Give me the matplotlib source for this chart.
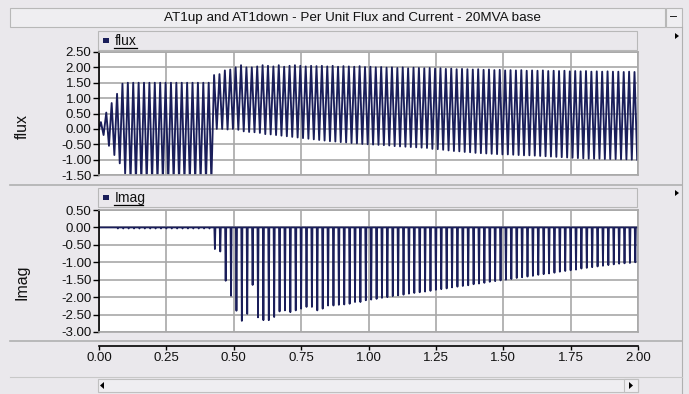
import numpy as np
import matplotlib.pyplot as plt
from matplotlib.patches import Rectangle, Polygon

plt.rcParams['font.family'] = ['Liberation Sans', 'DejaVu Sans']

# ---- data ----
title = 'AT1up and AT1down - Per Unit Flux and Current - 20MVA base'
x_ticks = [0.00, 0.25, 0.50, 0.75, 1.00, 1.25, 1.50, 1.75, 2.00]
flux_ticks = [-1.50, -1.00, -0.50, 0.00, 0.50, 1.00, 1.50, 2.00, 2.50]
imag_ticks = [-3.00, -2.50, -2.00, -1.50, -1.00, -0.50, 0.00, 0.50]

period = 0.02  # 50 Hz, one entry per cycle below

# flux: positive peak of each cycle
flux_max = [0.22, 0.53, 0.84, 1.14, 1.47, 1.50, 1.50, 1.50, 1.50, 1.50,
            1.50, 1.50, 1.50, 1.50, 1.50, 1.50, 1.50, 1.50, 1.50, 1.50,
            1.50, 1.75, 1.78, 1.90, 1.93, 2.00, 2.07, 2.00, 2.00, 2.03,
            2.07, 2.05, 2.03, 2.07, 2.02, 2.05, 2.07, 2.05, 2.03, 2.05,
            2.04, 2.05, 2.03, 2.05, 2.02, 2.04, 2.03, 2.02, 2.04, 2.01,
            2.02, 2.00, 2.01, 1.99, 2.00, 1.98, 2.00, 1.97, 1.99, 1.98,
            1.97, 1.98, 1.96, 1.97, 1.95, 1.96, 1.94, 1.95, 1.94, 1.93,
            1.94, 1.92, 1.93, 1.91, 1.92, 1.90, 1.91, 1.90, 1.91, 1.89,
            1.90, 1.89, 1.90, 1.88, 1.89, 1.88, 1.89, 1.87, 1.88, 1.87,
            1.88, 1.86, 1.87, 1.86, 1.87, 1.86, 1.86, 1.85, 1.86, 1.85]
# flux: negative peak of each cycle
flux_min = [-0.20, -0.55, -0.85, -1.12, -1.45, -1.70, -1.70, -1.70, -1.70, -1.70,
            -1.70, -1.70, -1.70, -1.70, -1.70, -1.70, -1.70, -1.70, -1.70, -1.70,
            -1.70, 0.00, 0.00, -0.02, 0.00, -0.03, -0.08, -0.10, -0.11, -0.13,
            -0.17, -0.18, -0.20, -0.22, -0.24, -0.26, -0.28, -0.30, -0.32, -0.34,
            -0.36, -0.38, -0.40, -0.41, -0.43, -0.44, -0.46, -0.47, -0.49, -0.50,
            -0.51, -0.52, -0.53, -0.54, -0.56, -0.57, -0.58, -0.59, -0.60, -0.61,
            -0.62, -0.65, -0.66, -0.68, -0.70, -0.72, -0.73, -0.75, -0.76, -0.78,
            -0.79, -0.80, -0.81, -0.82, -0.83, -0.83, -0.84, -0.85, -0.86, -0.86,
            -0.87, -0.88, -0.89, -0.90, -0.91, -0.92, -0.93, -0.94, -0.95, -0.96,
            -0.97, -0.97, -0.97, -0.98, -0.98, -0.98, -0.99, -0.99, -1.00, -1.00]
# Imag: magnetising current spike of each cycle
imag_peak = [0.00, 0.00, 0.00, -0.03, -0.03, -0.03, -0.03, -0.03, -0.03, -0.03,
             -0.03, -0.03, -0.03, -0.03, -0.03, -0.03, -0.03, -0.03, -0.03, -0.03,
             -0.03, -0.62, -0.69, -1.53, -1.96, -2.39, -2.68, -2.48, -1.65, -2.58,
             -2.66, -2.66, -2.57, -2.41, -2.38, -2.43, -2.38, -2.33, -2.28, -2.28,
             -2.38, -2.33, -2.24, -2.24, -2.22, -2.21, -2.19, -2.14, -2.14, -2.09,
             -2.07, -2.05, -2.02, -2.00, -1.97, -1.95, -1.93, -1.90, -1.88, -1.86,
             -1.84, -1.82, -1.79, -1.77, -1.75, -1.72, -1.70, -1.68, -1.66, -1.63,
             -1.61, -1.59, -1.56, -1.54, -1.52, -1.50, -1.48, -1.45, -1.43, -1.41,
             -1.39, -1.36, -1.34, -1.32, -1.30, -1.27, -1.25, -1.23, -1.21, -1.18,
             -1.16, -1.14, -1.12, -1.10, -1.08, -1.06, -1.04, -1.03, -1.02, -1.00]

# ---- build the traces ----
cyc = np.arange(len(flux_max)) * period
t_flux = np.empty(2 * len(cyc))
v_flux = np.empty(2 * len(cyc))
t_flux[0::2] = cyc + 0.007
t_flux[1::2] = cyc + 0.017
v_flux[0::2] = flux_max
v_flux[1::2] = flux_min
t_flux = np.concatenate([[0.0], t_flux])
v_flux = np.concatenate([[0.0], v_flux])

ts = cyc + 0.010
t_imag = np.column_stack([ts - 0.002, ts, ts + 0.002]).ravel()
v_imag = np.column_stack([np.zeros(len(ts)), imag_peak, np.zeros(len(ts))]).ravel()
t_imag = np.concatenate([[0.0], t_imag, [2.0]])
v_imag = np.concatenate([[0.0], v_imag, [0.0]])

# ---- figure ----
W, H = 689, 394
BG = '#EAE8EC'
NAVY = '#1A1E5A'
GRID = '#A8A8A8'
TXT = '#111111'
fig = plt.figure(figsize=(W / 100, H / 100), dpi=100, facecolor=BG)


def rect(l, t, r, b):
    return [l / W, 1 - b / H, (r - l) / W, (b - t) / H]


# decoration layer in pixel coordinates
bg = fig.add_axes([0, 0, 1, 1])
bg.set_xlim(0, W)
bg.set_ylim(H, 0)
bg.axis('off')
bg.add_patch(Rectangle((10, 8), 655, 19, fc='#EFEEF1', ec='#B8B8B8', lw=0.8))
bg.add_patch(Rectangle((666, 8), 16, 19, fc='#EFEEF1', ec='#B8B8B8', lw=0.8))
bg.text(673, 17, '–', ha='center', va='center', fontsize=9, color='black')
bg.text(352, 17.5, title, ha='center', va='center', fontsize=9.7, color=TXT)
bg.plot([682, 682], [27, 394], color='#B0B0B0', lw=0.8)
bg.plot([10, 682], [185, 185], color='#B0B0B0', lw=1.2)
bg.plot([10, 682], [341, 341], color='#B0B0B0', lw=1.2)
bg.plot([10, 682], [377, 377], color='#C8C8C8', lw=0.8)

for top, name, ul in [(31, 'flux', 23), (188, 'Imag', 29)]:
    bg.add_patch(Rectangle((98, top), 539, 19, fc=BG, ec='#B8B8B8', lw=0.8))
    bg.add_patch(Rectangle((103, top + 7), 6, 5, fc=NAVY, ec='none'))
    bg.text(115, top + 10, name, ha='left', va='center', fontsize=10, color=TXT)
    bg.plot([114, 114 + ul], [top + 16.5, top + 16.5], color='black', lw=0.9)
    bg.add_patch(Polygon([[675, top + 2], [675, top + 8], [679, top + 5]],
                         closed=True, fc='black', ec='none'))

# scroll bar
bg.add_patch(Rectangle((98, 379), 540, 13, fc='#EFEEF1', ec='#C0C0C0', lw=0.8))
bg.add_patch(Rectangle((624, 379), 14, 13, fc='#EFEEF1', ec='#C0C0C0', lw=0.8))
bg.add_patch(Polygon([[104, 382], [104, 389], [100, 385.5]], closed=True, fc='black', ec='none'))
bg.add_patch(Polygon([[629, 382], [629, 389], [633, 385.5]], closed=True, fc='black', ec='none'))


def style_panel(ax, yticks, ylabel, label_y):
    ax.set_facecolor('white')
    ax.set_xlim(0, 2)
    ax.set_ylim(yticks[0], yticks[-1])
    ax.set_xticks(x_ticks)
    ax.set_xticklabels([])
    ax.tick_params(axis='x', length=0)
    ax.set_yticks(yticks)
    ax.set_yticklabels(['%.2f' % v for v in yticks], fontsize=9.5, color=TXT)
    ax.tick_params(axis='y', direction='out', length=4, width=1, color='black', pad=1.5)
    ax.grid(True, color=GRID, lw=1.2)
    ax.set_axisbelow(True)
    for s in ['top', 'right', 'bottom']:
        ax.spines[s].set_color(GRID)
        ax.spines[s].set_linewidth(1.2)
    ax.spines['left'].set_color('black')
    ax.spines['left'].set_linewidth(1.2)
    bg.text(22, label_y, ylabel, rotation=90, ha='center', va='center',
            fontsize=11.5, color=TXT)


ax1 = fig.add_axes(rect(99, 52, 638, 175))
style_panel(ax1, flux_ticks, 'flux', 126)
ax1.plot(t_flux, v_flux, color=NAVY, lw=1.35)

ax2 = fig.add_axes(rect(99, 210, 638, 332))
style_panel(ax2, imag_ticks, 'Imag', 282)
ax2.plot(t_imag, v_imag, color=NAVY, lw=1.3)

# shared time axis
ax3 = fig.add_axes(rect(99, 340, 638, 345.5))
ax3.patch.set_alpha(0)
ax3.set_xlim(0, 2)
ax3.set_yticks([])
for s in ['top', 'right', 'left']:
    ax3.spines[s].set_visible(False)
ax3.spines['bottom'].set_linewidth(1.2)
ax3.set_xticks(x_ticks)
ax3.set_xticklabels(['%.2f' % v for v in x_ticks], fontsize=9.5, color=TXT)
ax3.tick_params(axis='x', direction='out', length=3, width=1, pad=2)

fig.savefig('out.png', dpi=100, facecolor=BG)
